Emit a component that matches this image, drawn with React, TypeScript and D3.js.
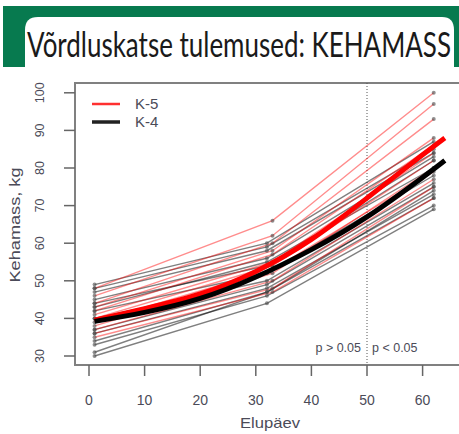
import React from "react";
import * as d3 from "d3";

const title = "Võrdluskatse tulemused: KEHAMASS";
const xTicks = [0, 10, 20, 30, 40, 50, 60];
const yTicks = [30, 40, 50, 60, 70, 80, 90, 100];

const k5Days = [1, 33, 62];
const k4Days = [1, 32, 62];

const k5Animals: number[][] = [
  [48, 66, 100],
  [46, 62, 97],
  [44, 60, 93],
  [43, 58, 88],
  [42, 57, 86],
  [41, 55, 84],
  [40, 54, 82],
  [39, 53, 79],
  [38, 52, 80],
  [37, 50, 77],
  [36, 48, 75],
  [35, 47, 72],
];

const k4Animals: number[][] = [
  [49, 60, 87],
  [48, 59, 85],
  [47, 58, 84],
  [45, 56, 83],
  [44, 54, 82],
  [43, 55, 80],
  [42, 52, 78],
  [40, 50, 76],
  [37, 49, 75],
  [36, 48, 73],
  [34, 47, 72],
  [33, 46, 70],
  [31, 47, 74],
  [30, 44, 69],
];

const meanDays = [1, 10, 20, 30, 40, 50, 60, 64];
const k5Mean = [39.5, 42.6, 46.5, 52.5, 61.0, 72.0, 83.5, 88.0];
const k4Mean = [39.2, 41.6, 45.3, 51.0, 58.3, 67.0, 77.5, 82.0];

const legendLabels = ["K-5", "K-4"];
const pLeft = "p > 0.05";
const pRight = "p < 0.05";
const xTitle = "Elupäev";
const yTitle = "Kehamass, kg";

export default function App() {
  const W = 459, H = 434;
  const left = 75, top = 83, bottom = 365, right = 470;
  const x = d3.scaleLinear().domain([0, 60]).range([89, 422.6]);
  const y = d3.scaleLinear().domain([30, 100]).range([356, 92.8]);

  const seg = d3
    .line<[number, number]>()
    .x((d) => x(d[0]))
    .y((d) => y(d[1]));
  const curve = d3
    .line<[number, number]>()
    .x((d) => x(d[0]))
    .y((d) => y(d[1]))
    .curve(d3.curveNatural);

  const tickFont = "Liberation Sans, Arial, sans-serif";
  const txtCol = "#4b4b58";

  return (
    <div style={{ position: "fixed", left: 0, top: 0 }}>
      <svg width={W} height={H} style={{ display: "block", background: "#fff" }}>
        {/* header */}
        <rect x={3} y={6} width={456} height={61} fill="#077a4f" />
        <path
          d={`M25,67 L25,30 Q25,17 38,17 L442,17 Q454,17 454,30 L454,67 Z`}
          fill="#fff"
        />
        <text
          x={27}
          y={57}
          fontFamily="Lato, 'Open Sans', sans-serif"
          fontSize={35}
          fill="#1a1a1a"
          textLength={424}
          lengthAdjust="spacingAndGlyphs"
        >
          {title}
        </text>

        {/* plot box */}
        <rect x={left} y={top} width={right - left} height={bottom - top} fill="none" stroke="#808080" strokeWidth={2} />

        {/* dotted vertical at day 50 */}
        <line x1={x(50)} x2={x(50)} y1={top} y2={bottom} stroke="#555" strokeWidth={1} strokeDasharray="1,2" />

        {/* individual lines */}
        {k4Animals.map((vals, i) => (
          <path
            key={"k4" + i}
            d={seg(k4Days.map((d, j) => [d, vals[j]] as [number, number])) || ""}
            fill="none"
            stroke="rgba(0,0,0,0.5)"
            strokeWidth={1.4}
          />
        ))}
        {k5Animals.map((vals, i) => (
          <path
            key={"k5" + i}
            d={seg(k5Days.map((d, j) => [d, vals[j]] as [number, number])) || ""}
            fill="none"
            stroke="rgba(255,0,0,0.45)"
            strokeWidth={1.4}
          />
        ))}
        {k4Animals.map((vals, i) =>
          k4Days.map((d, j) => (
            <circle key={`p4-${i}-${j}`} cx={x(d)} cy={y(vals[j])} r={2} fill="rgba(70,70,70,0.6)" />
          ))
        )}
        {k5Animals.map((vals, i) =>
          k5Days.map((d, j) => (
            <circle key={`p5-${i}-${j}`} cx={x(d)} cy={y(vals[j])} r={2} fill="rgba(70,70,70,0.6)" />
          ))
        )}

        {/* mean curves */}
        <path
          d={curve(meanDays.map((d, j) => [d, k5Mean[j]] as [number, number])) || ""}
          fill="none"
          stroke="#ff0000"
          strokeWidth={5}
        />
        <path
          d={curve(meanDays.map((d, j) => [d, k4Mean[j]] as [number, number])) || ""}
          fill="none"
          stroke="#000"
          strokeWidth={5}
        />

        {/* x axis */}
        {xTicks.map((t) => (
          <g key={"xt" + t}>
            <line x1={x(t)} x2={x(t)} y1={bottom} y2={376} stroke="#666" strokeWidth={1.5} />
            <text x={x(t)} y={405} textAnchor="middle" fontFamily={tickFont} fontSize={14} fill={txtCol}>
              {t}
            </text>
          </g>
        ))}
        {/* y axis */}
        {yTicks.map((t) => (
          <g key={"yt" + t}>
            <line x1={64} x2={left} y1={y(t)} y2={y(t)} stroke="#666" strokeWidth={1.5} />
            <text
              transform={`translate(44,${y(t)}) rotate(-90)`}
              textAnchor="middle"
              fontFamily={tickFont}
              fontSize={12.5}
              fill={txtCol}
            >
              {t}
            </text>
          </g>
        ))}

        {/* axis titles */}
        <text x={270} y={428} textAnchor="middle" fontFamily={tickFont} fontSize={15} fill={txtCol} textLength={60} lengthAdjust="spacingAndGlyphs">
          {xTitle}
        </text>
        <text
          transform={`translate(20,225) rotate(-90)`}
          textAnchor="middle"
          fontFamily={tickFont}
          fontSize={15}
          fill={txtCol}
          textLength={115}
          lengthAdjust="spacingAndGlyphs"
        >
          {yTitle}
        </text>

        {/* p labels */}
        <text x={361} y={352} textAnchor="end" fontFamily={tickFont} fontSize={12.5} fill={txtCol}>
          {pLeft}
        </text>
        <text x={372} y={352} textAnchor="start" fontFamily={tickFont} fontSize={12.5} fill={txtCol}>
          {pRight}
        </text>

        {/* legend */}
        <line x1={92} x2={120} y1={104} y2={104} stroke="#ff3030" strokeWidth={2.5} />
        <line x1={92} x2={120} y1={122} y2={122} stroke="#222" strokeWidth={3.5} />
        <text x={135} y={109} fontFamily={tickFont} fontSize={15} fill={txtCol}>
          {legendLabels[0]}
        </text>
        <text x={135} y={127} fontFamily={tickFont} fontSize={15} fill={txtCol}>
          {legendLabels[1]}
        </text>
      </svg>
    </div>
  );
}
